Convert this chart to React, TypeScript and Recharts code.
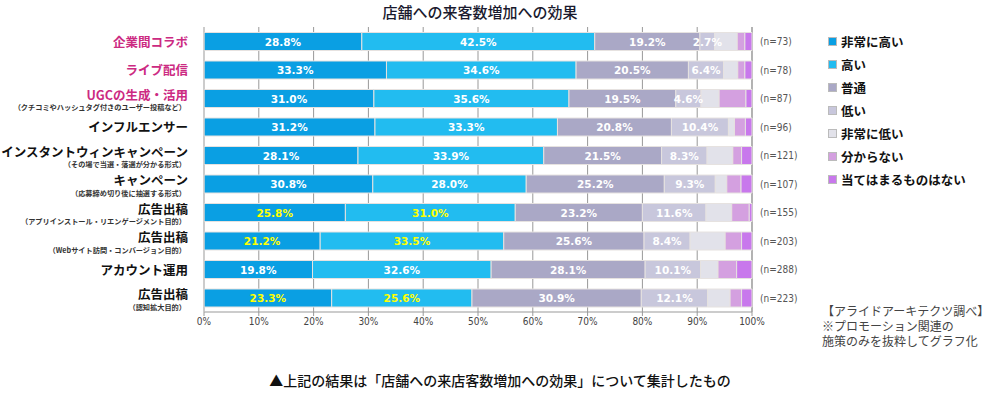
import { Bar, BarChart, CartesianGrid, LabelList, XAxis, YAxis } from "recharts"

const categories = [
  "企業間コラボ",
  "ライブ配信",
  "UGCの生成・活用",
  "インフルエンサー",
  "インスタントウィンキャンペーン",
  "キャンペーン",
  "広告出稿",
  "広告出稿",
  "アカウント運用",
  "広告出稿",
]
const subtitles = [
  "",
  "",
  "（クチコミやハッシュタグ付きのユーザー投稿など）",
  "",
  "（その場で当選・落選が分かる形式）",
  "（応募締め切り後に抽選する形式）",
  "（アプリインストール・リエンゲージメント目的）",
  "（Webサイト訪問・コンバージョン目的）",
  "",
  "（認知拡大目的）",
]
const highlighted = [true, true, true, false, false, false, false, false, false, false]
const yellowLabels = [false, false, false, false, false, false, true, true, false, true]
const sampleSizes = [73, 78, 87, 96, 121, 107, 155, 203, 288, 223]

const veryHigh = [28.8, 33.3, 31.0, 31.2, 28.1, 30.8, 25.8, 21.2, 19.8, 23.3]
const high = [42.5, 34.6, 35.6, 33.3, 33.9, 28.0, 31.0, 33.5, 32.6, 25.6]
const normal = [19.2, 20.5, 19.5, 20.8, 21.5, 25.2, 23.2, 25.6, 28.1, 30.9]
const low = [2.7, 6.4, 4.6, 10.4, 8.3, 9.3, 11.6, 8.4, 10.1, 12.1]
const veryLow = [4.1, 2.6, 3.3, 1.1, 4.7, 2.1, 4.7, 6.4, 3.2, 4.1]
const unknown = [1.4, 1.3, 4.9, 2.0, 1.6, 2.6, 3.2, 3.0, 3.4, 2.1]
const notApplicable = [1.3, 1.3, 1.1, 1.2, 1.9, 2.0, 0.5, 1.9, 2.8, 1.9]

const xTicks = [0, 10, 20, 30, 40, 50, 60, 70, 80, 90, 100]

const series = [
  { key: "veryHigh", name: "非常に高い", color: "#0a9fe3", labeled: true },
  { key: "high", name: "高い", color: "#22bcf0", labeled: true },
  { key: "normal", name: "普通", color: "#aaa8c6", labeled: true },
  { key: "low", name: "低い", color: "#c8c7dc", labeled: true },
  { key: "veryLow", name: "非常に低い", color: "#e2e2ea", labeled: false },
  { key: "unknown", name: "分からない", color: "#d4a0e0", labeled: false },
  { key: "notApplicable", name: "当てはまるものはない", color: "#c878ec", labeled: false },
]

const data = categories.map((name, i) => ({
  name,
  idx: i,
  veryHigh: veryHigh[i],
  high: high[i],
  normal: normal[i],
  low: low[i],
  veryLow: veryLow[i],
  unknown: unknown[i],
  notApplicable: notApplicable[i],
}))

const FONT = "'Noto Sans CJK JP', 'Noto Sans', sans-serif"

function CategoryTick(props: any) {
  const { x, y, payload } = props
  const i = payload.index
  const sub = subtitles[i]
  const color = highlighted[i] ? "#cc2a82" : "#111"
  return (
    <g>
      <text
        x={x - 8}
        y={sub ? y - 4 : y}
        textAnchor="end"
        dominantBaseline="central"
        fontSize={12.5}
        fontWeight={700}
        fill={color}
        fontFamily={FONT}
      >
        {categories[i]}
      </text>
      {sub && (
        <text
          x={x - 10}
          y={y + 9}
          textAnchor="end"
          dominantBaseline="central"
          fontSize={7.2}
          fontWeight={700}
          fill="#333"
          fontFamily={FONT}
        >
          {sub}
        </text>
      )}
    </g>
  )
}

function makeValueLabel(seriesIndex: number) {
  return (props: any) => {
    const { x, y, width, height, value, index } = props
    if (!value || width < 12) return null
    const yellow = seriesIndex < 2 && yellowLabels[index]
    return (
      <text
        x={x + width / 2}
        y={y + height / 2}
        textAnchor="middle"
        dominantBaseline="central"
        fontSize={10.5}
        fontWeight={700}
        fill={yellow ? "#ffff00" : "#ffffff"}
        fontFamily="'DejaVu Sans', sans-serif"
      >
        {Number(value).toFixed(1)}%
      </text>
    )
  }
}

function SampleLabel(props: any) {
  const { x, y, width, height, index } = props
  return (
    <text
      x={x + width + 8}
      y={y + height / 2}
      dominantBaseline="central"
      fontSize={10}
      fill="#555"
      fontFamily="'DejaVu Sans Condensed', sans-serif"
    >
      (n={sampleSizes[index]})
    </text>
  )
}

function LegendBox() {
  return (
    <div style={{ position: "absolute", left: 828, top: 30, fontFamily: FONT }}>
      {series.map((s) => (
        <div key={s.key} style={{ display: "flex", alignItems: "center", height: 23 }}>
          <span
            style={{
              display: "inline-block",
              width: 7,
              height: 7,
              background: s.color,
              border: "1px solid #bbb",
              marginRight: 4,
            }}
          />
          <span style={{ fontSize: 12.5, fontWeight: 700, color: "#111" }}>{s.name}</span>
        </div>
      ))}
    </div>
  )
}

export default function App() {
  return (
    <div style={{ position: "relative", width: 1000, height: 395, background: "#fff", fontFamily: FONT }}>
      <style>{"body{margin:0}"}</style>
      <div
        style={{
          position: "absolute",
          left: 0,
          width: 960,
          top: 1,
          textAlign: "center",
          fontSize: 15,
          fontWeight: 500,
          color: "#1a1a2e",
        }}
      >
        店舗への来客数増加への効果
      </div>
      <BarChart
        width={1000}
        height={395}
        data={data}
        layout="vertical"
        margin={{ top: 27, right: 248, bottom: 63, left: 0 }}
        barCategoryGap={5.5}
      >
        <CartesianGrid horizontal={false} stroke="#999" />
        <XAxis
          type="number"
          domain={[0, 100]}
          ticks={xTicks}
          tickFormatter={(v) => `${v}%`}
          height={20}
          axisLine={{ stroke: "#999" }}
          tickLine={{ stroke: "#999" }}
          tickSize={4}
          tick={{ fontSize: 10, fill: "#444", fontFamily: "'DejaVu Sans Condensed', sans-serif" }}
          interval={0}
        />
        <YAxis
          type="category"
          dataKey="name"
          width={204}
          axisLine={{ stroke: "#ccc" }}
          tickLine={false}
          tick={<CategoryTick />}
          interval={0}
        />
        {series.map((s, si) => (
          <Bar
            key={s.key}
            dataKey={s.key}
            name={s.name}
            stackId="a"
            fill={s.color}
            stroke="#e6e2e0"
            strokeWidth={1}
            isAnimationActive={false}
          >
            {s.labeled && <LabelList dataKey={s.key} content={makeValueLabel(si)} />}
            {si === series.length - 1 && <LabelList dataKey={s.key} content={SampleLabel} />}
          </Bar>
        ))}
      </BarChart>
      <LegendBox />
      <div
        style={{
          position: "absolute",
          left: 822,
          top: 303,
          fontSize: 12,
          lineHeight: "15px",
          color: "#444",
        }}
      >
        <div>【アライドアーキテクツ調べ】</div>
        <div>※プロモーション関連の</div>
        <div>施策のみを抜粋してグラフ化</div>
      </div>
      <div
        style={{
          position: "absolute",
          left: 0,
          width: 1000,
          top: 370,
          textAlign: "center",
          fontSize: 14,
          fontWeight: 500,
          color: "#111",
        }}
      >
        ▲上記の結果は「店舗への来店客数増加への効果」について集計したもの
      </div>
    </div>
  )
}
